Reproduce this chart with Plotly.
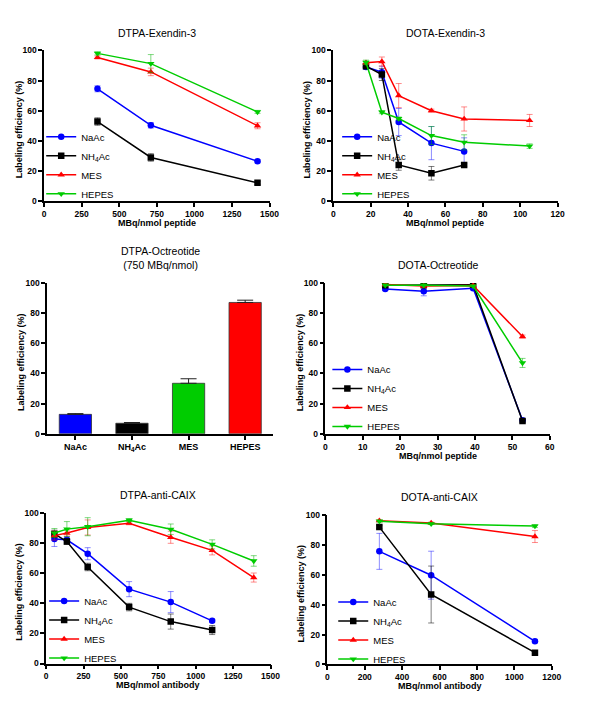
import plotly.graph_objects as go

W, H = 600, 704
FONT = "Arial, 'Liberation Sans', sans-serif"

# ---------------- data ----------------
buffers = ["NaAc", "NH<sub>4</sub>Ac", "MES", "HEPES"]

# DTPA-Exendin-3
p1_x = [355, 710, 1420]
p1_naac = [74.5, 50.3, 26.5]
p1_naac_err = [2, 1.8, 1]
p1_nh4ac = [52.8, 29.0, 12.2]
p1_nh4ac_err = [2.5, 2.5, 1]
p1_mes = [95.3, 85.7, 50.0]
p1_mes_err = [1, 2.5, 2]
p1_hepes = [98.0, 91.2, 59.2]
p1_hepes_err = [1, 6, 1]

# DOTA-Exendin-3
p2_x_short = [17.5, 26, 35, 52.5, 70]
p2_x_long = [17.5, 26, 35, 52.5, 70, 105]
p2_naac = [89.0, 85.5, 52.5, 38.5, 33.0]
p2_naac_err = [1.5, 4, 9, 11, 9]
p2_nh4ac = [89.5, 84.0, 24.0, 18.5, 24.0]
p2_nh4ac_err = [1, 4, 3.5, 4.5, 1]
p2_mes = [91.7, 92.6, 70.0, 60.0, 54.5, 53.5]
p2_mes_err = [1, 3, 8, 1, 8, 4]
p2_hepes = [92.0, 59.0, 54.8, 43.5, 39.0, 36.5]
p2_hepes_err = [1.5, 1, 1, 6, 5, 1.5]

# DTPA-Octreotide (750 MBq/nmol)
p3_cats = ["NaAc", "NH<sub>4</sub>Ac", "MES", "HEPES"]
p3_vals = [12.9, 7.0, 33.5, 87.1]
p3_err = [0.5, 0.5, 3, 1.5]

# DOTA-Octreotide
p4_x = [16, 26.3, 39.5, 52.7]
p4_naac = [96.0, 94.5, 96.5, 9.0]
p4_naac_err = [1, 3, 1, 0.5]
p4_nh4ac = [98.5, 98.5, 98.8, 8.5]
p4_nh4ac_err = [0.5, 0.5, 0.5, 1]
p4_mes = [99.0, 98.0, 98.3, 64.5]
p4_mes_err = [0.5, 0.5, 0.5, 1]
p4_hepes = [98.5, 98.5, 98.0, 47.0]
p4_hepes_err = [0.5, 0.5, 0.5, 3]

# DTPA-anti-CAIX
p5_x_short = [55.5, 139, 278, 555, 833, 1110]
p5_x_long = [55.5, 139, 278, 555, 833, 1110, 1388]
p5_naac = [82.6, 82.0, 72.8, 49.3, 40.7, 28.3]
p5_naac_err = [5, 2, 4, 5, 7, 1]
p5_nh4ac = [85.9, 80.9, 64.0, 37.4, 27.8, 22.2]
p5_nh4ac_err = [2.5, 2, 2.5, 2.5, 5, 3]
p5_mes = [84.8, 86.5, 90.2, 93.0, 83.7, 75.0, 57.0]
p5_mes_err = [3, 2, 5, 1, 4, 3, 3]
p5_hepes = [86.5, 89.1, 90.7, 95.0, 89.0, 79.0, 68.0]
p5_hepes_err = [3, 5, 6, 1, 3.5, 3, 3.5]

# DOTA-anti-CAIX
p6_x = [278, 555, 1110]
p6_naac = [75.5, 59.6, 15.5]
p6_naac_err = [12, 16, 1]
p6_nh4ac = [91.7, 46.7, 7.9]
p6_nh4ac_err = [1, 19, 1]
p6_mes = [96.0, 94.5, 85.4]
p6_mes_err = [0.5, 0.5, 4]
p6_hepes = [95.6, 93.9, 92.4]
p6_hepes_err = [0.5, 0.5, 1]

titles = ["DTPA-Exendin-3", "DOTA-Exendin-3", "DTPA-Octreotide<br>(750 MBq/nmol)",
          "DOTA-Octreotide", "DTPA-anti-CAIX", "DOTA-anti-CAIX"]
xtitles = ["MBq/nmol peptide", "MBq/nmol peptide", None,
           "MBq/nmol peptide", "MBq/nmol antibody", "MBq/nmol antibody"]
ytitle = "Labeling efficiency (%)"

# ---------------- styles ----------------
colors = ["#0000FF", "#000000", "#FF0000", "#00CC00"]
err_colors = ["rgba(0,0,255,0.45)", "rgba(0,0,0,0.5)", "rgba(255,0,0,0.45)", "rgba(0,180,0,0.5)"]
bar_colors = ["#0000FF", "#000000", "#00CC00", "#FF0000"]
symbols = ["circle", "square", "triangle-up", "triangle-down"]


def px_x(v):
    return v / W


def px_y(v):
    return 1 - v / H


# plot areas in pixels: (x0, x1, ytop, ybottom)
boxes = [
    (43, 273, 46, 199),
    (338, 567, 46, 199),
    (46, 277, 282, 435),
    (330, 559, 282, 435),
    (45, 274, 515, 668),
    (332, 561, 517, 669),
]
xranges = [[0, 1500], [0, 120], None, [0, 60], [0, 1500], [0, 1200]]
xdticks = [250, 20, None, 10, 250, 200]
title_y = [28, 28, None, 264, 497, 499]
ytitle_x = [17, 311, 20, 304, 17, 305]

fig = go.Figure()

line_panels = [
    (1, "legend", [(p1_x, p1_naac, p1_naac_err), (p1_x, p1_nh4ac, p1_nh4ac_err),
                   (p1_x, p1_mes, p1_mes_err), (p1_x, p1_hepes, p1_hepes_err)]),
    (2, "legend2", [(p2_x_short, p2_naac, p2_naac_err), (p2_x_short, p2_nh4ac, p2_nh4ac_err),
                    (p2_x_long, p2_mes, p2_mes_err), (p2_x_long, p2_hepes, p2_hepes_err)]),
    (4, "legend3", [(p4_x, p4_naac, p4_naac_err), (p4_x, p4_nh4ac, p4_nh4ac_err),
                    (p4_x, p4_mes, p4_mes_err), (p4_x, p4_hepes, p4_hepes_err)]),
    (5, "legend4", [(p5_x_short, p5_naac, p5_naac_err), (p5_x_short, p5_nh4ac, p5_nh4ac_err),
                    (p5_x_long, p5_mes, p5_mes_err), (p5_x_long, p5_hepes, p5_hepes_err)]),
    (6, "legend5", [(p6_x, p6_naac, p6_naac_err), (p6_x, p6_nh4ac, p6_nh4ac_err),
                    (p6_x, p6_mes, p6_mes_err), (p6_x, p6_hepes, p6_hepes_err)]),
]

for idx, leg, series in line_panels:
    ax = "" if idx == 1 else str(idx)
    for k, (xs, ys, es) in enumerate(series):
        fig.add_trace(go.Scatter(
            x=xs, y=ys, mode="lines+markers", name=buffers[k],
            xaxis="x" + ax, yaxis="y" + ax, legend=leg,
            line=dict(color=colors[k], width=1.5),
            marker=dict(symbol=symbols[k], size=6.5, color=colors[k]),
            error_y=dict(type="data", array=es, visible=True, color=err_colors[k],
                         thickness=1, width=3),
        ))

fig.add_trace(go.Bar(
    x=p3_cats, y=p3_vals, xaxis="x3", yaxis="y3", showlegend=False,
    marker=dict(color=bar_colors, line=dict(color="#333333", width=0.8)),
    width=0.57,
    error_y=dict(type="data", array=p3_err, arrayminus=[0] * len(p3_err), symmetric=False,
                 visible=True, color="#222222", thickness=1, width=8),
))

tickfont = dict(family=FONT, size=8.5, color="black", weight="bold")
axis_common = dict(showline=True, linecolor="black", linewidth=1.5, ticks="outside",
                   ticklen=4, tickwidth=1.5, tickcolor="black", showgrid=False,
                   zeroline=False, tickfont=tickfont, fixedrange=True)

annotations = []
for i, (x0, x1, yt, yb) in enumerate(boxes):
    n = i + 1
    key = "" if n == 1 else str(n)
    xa = dict(axis_common, domain=[px_x(x0), px_x(x1)], anchor="y" + key)
    if xranges[i] is not None:
        xa.update(range=xranges[i], dtick=xdticks[i], tick0=0)
    else:
        xa.update(range=[-0.5, 3.5], tickfont=dict(tickfont, size=9))
    ya = dict(axis_common, domain=[px_y(yb), px_y(yt)], anchor="x" + key,
              range=[0, 100], dtick=20, tick0=0)
    fig.update_layout(**{"xaxis" + key: xa, "yaxis" + key: ya})

    cx = (x0 + x1) / 2
    ty = 257 if i == 2 else title_y[i]
    annotations.append(dict(text=titles[i], x=px_x(cx), y=px_y(ty), xref="paper",
                            yref="paper", showarrow=False, xanchor="center", yanchor="middle",
                            font=dict(family=FONT, size=10.5, color="black")))
    if xtitles[i]:
        annotations.append(dict(text=xtitles[i], x=px_x(cx), y=px_y(yb + 22), xref="paper",
                                yref="paper", showarrow=False, xanchor="center",
                                yanchor="middle",
                                font=dict(family=FONT, size=9, color="black", weight="bold")))
    annotations.append(dict(text=ytitle, x=px_x(ytitle_x[i]), y=px_y((yt + yb) / 2 + 4),
                            xref="paper", yref="paper", showarrow=False, textangle=-90,
                            xanchor="center", yanchor="middle",
                            font=dict(family=FONT, size=9, color="black", weight="bold")))

legend_common = dict(bgcolor="rgba(0,0,0,0)", borderwidth=0, xanchor="left", yanchor="top",
                     font=dict(family=FONT, size=9.5, color="black"), tracegroupgap=0)
legend_pos = {"legend": (40, 119), "legend2": (342, 119), "legend3": (332, 355),
              "legend4": (43, 590), "legend5": (338, 591)}
for name, (lx, ly) in legend_pos.items():
    fig.update_layout(**{name: dict(legend_common, x=px_x(lx), y=px_y(ly))})

fig.update_layout(
    width=W, height=H, margin=dict(l=0, r=0, t=0, b=0),
    paper_bgcolor="white", plot_bgcolor="white",
    font=dict(family=FONT, color="black"),
    annotations=annotations, bargap=0.43,
)

fig.write_html("out.html", config={"displayModeBar": False},
               post_script="document.body.style.margin='0';")
